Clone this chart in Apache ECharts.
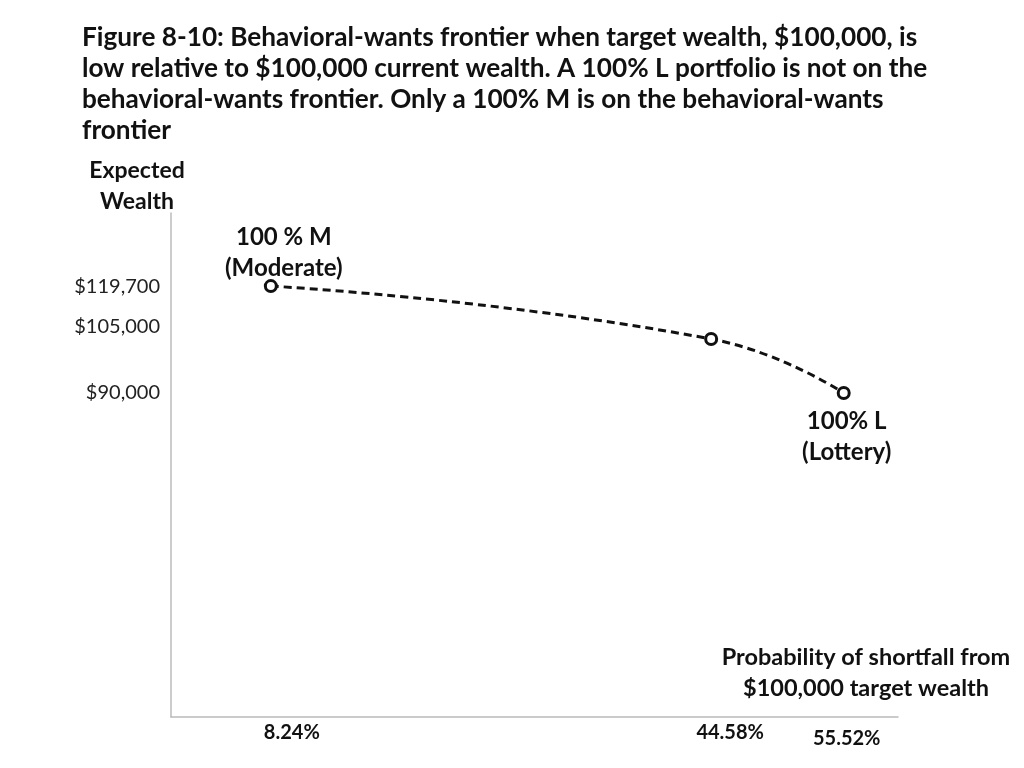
<!DOCTYPE html>
<html>
<head>
<meta charset="utf-8">
<script src="https://cdn.jsdelivr.net/npm/echarts@6/dist/echarts.min.js"></script>
<style>
html, body { margin: 0; padding: 0; background: #fff; }
#chart { width: 1024px; height: 768px; }
</style>
</head>
<body>
<div id="chart"></div>
<script>
// data
var shortfall = [8.24, 44.58, 55.52];          // probability of shortfall, %
var wealth = [119700, 105000, 90000];          // expected wealth, $
var pointLabels = ['100 % M\n(Moderate)', '', '100% L\n(Lottery)'];
var yTicks = [90000, 105000, 119700];
var xTicks = [8.24, 44.58, 55.52];

var FONT = 'Lato, "Open Sans", sans-serif';

function money(v) {
    return '$' + v.toLocaleString('en-US');
}

window.onload = function () {
    var chart = echarts.init(document.getElementById('chart'));

    var points = shortfall.map(function (x, i) {
        var p = { value: [x, wealth[i]] };
        if (i === 0) {
            p.label = { show: true, position: 'top', offset: [13, 10], formatter: pointLabels[i] };
        } else if (i === 2) {
            p.label = { show: true, position: 'bottom', distance: 6, offset: [3, 0], formatter: pointLabels[i] };
        }
        return p;
    });

    var option = {
        backgroundColor: '#fff',
        animation: false,
        title: [{
            text: 'Figure 8-10: Behavioral-wants frontier when target wealth, $100,000, is\n' +
                  'low relative to $100,000 current wealth. A 100% L portfolio is not on the\n' +
                  'behavioral-wants frontier. Only a 100% M is on the behavioral-wants\n' +
                  'frontier',
            left: 82,
            top: 22,
            padding: 0,
            textStyle: { fontFamily: FONT, fontSize: 26.2, fontWeight: 'bold', color: '#111', lineHeight: 31 }
        }, {
            text: 'Expected\nWealth',
            left: 137,
            top: 155,
            textAlign: 'center',
            padding: 0,
            textStyle: { fontFamily: FONT, fontSize: 23, fontWeight: 'bold', color: '#111', lineHeight: 31, align: 'center' }
        }, {
            text: 'Probability of shortfall from\n$100,000 target wealth',
            left: 866,
            top: 642,
            textAlign: 'center',
            padding: 0,
            textStyle: { fontFamily: FONT, fontSize: 23.5, fontWeight: 'bold', color: '#111', lineHeight: 31, align: 'center' }
        }],
        grid: { left: 171, top: 213, right: 126, bottom: 51, containLabel: false },
        xAxis: {
            type: 'value',
            min: 0,
            max: 60,
            splitLine: { show: false },
            axisTick: { show: false },
            axisLine: { lineStyle: { color: '#bbb', width: 1.5 } },
            axisLabel: {
                customValues: xTicks,
                margin: 6,
                fontFamily: FONT,
                fontSize: 20,
                fontWeight: 'bold',
                color: '#111',
                formatter: function (v) {
                    var i = xTicks.indexOf(v);
                    return '{s' + i + '|' + v.toFixed(2) + '%}';
                },
                rich: {
                    s0: { fontFamily: FONT, fontSize: 20, fontWeight: 'bold', color: '#111', padding: [0, 0, 0, 42] },
                    s1: { fontFamily: FONT, fontSize: 20, fontWeight: 'bold', color: '#111', padding: [0, 0, 0, 38] },
                    s2: { fontFamily: FONT, fontSize: 20, fontWeight: 'bold', color: '#111', padding: [6, 0, 0, 6] }
                }
            }
        },
        yAxis: {
            type: 'value',
            min: 0,
            max: 140000,
            splitLine: { show: false },
            axisTick: { show: false },
            axisLine: { show: true, lineStyle: { color: '#bbb', width: 1.5 } },
            axisLabel: {
                customValues: yTicks,
                margin: 11,
                fontFamily: FONT,
                fontSize: 20,
                color: '#222',
                formatter: function (v) {
                    return v === 105000 ? '{up|' + money(v) + '}' : money(v);
                },
                rich: {
                    up: { fontFamily: FONT, fontSize: 20, color: '#222', padding: [0, 0, 24, 0] }
                }
            }
        },
        series: [{
            type: 'line',
            data: points,
            smooth: 0.5,
            symbol: 'circle',
            symbolSize: 11,
            itemStyle: { color: '#fff', borderColor: '#111', borderWidth: 3 },
            lineStyle: { color: '#111', width: 3, type: [8, 5] },
            label: {
                fontFamily: FONT,
                fontSize: 24,
                fontWeight: 'bold',
                color: '#111',
                lineHeight: 31,
                align: 'center'
            }
        }]
    };

    chart.setOption(option);
};
</script>
</body>
</html>
